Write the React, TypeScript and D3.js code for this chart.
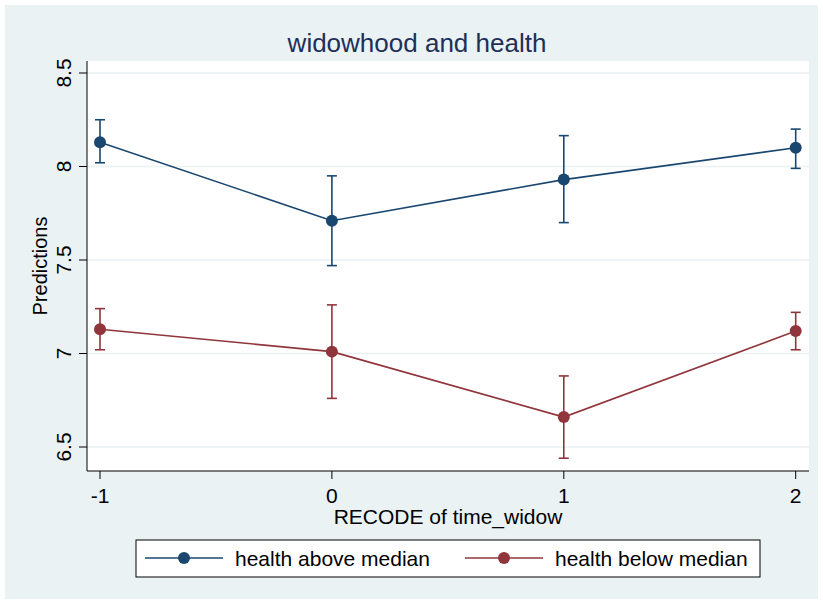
import React from 'react';
import * as d3 from 'd3';

const xCats = [-1, 0, 1, 2];
const yTicks = [6.5, 7, 7.5, 8, 8.5];

const aboveMean = [8.13, 7.71, 7.93, 8.10];
const aboveLo = [8.02, 7.47, 7.70, 7.99];
const aboveHi = [8.25, 7.95, 8.165, 8.20];

const belowMean = [7.13, 7.01, 6.66, 7.12];
const belowLo = [7.02, 6.76, 6.44, 7.02];
const belowHi = [7.24, 7.26, 6.88, 7.22];

const seriesNames = ['health above median', 'health below median'];
const colors = ['#1a476f', '#90353b'];

const W = 823, H = 604;
const plot = { left: 87, right: 809, top: 61, bottom: 471 };

export default function App() {
  const x = d3.scaleLinear().domain([-1, 2]).range([100, 795.7]);
  const y = d3.scaleLinear().domain([6.5, 8.5]).range([447, 73]);

  const line = d3.line<[number, number]>()
    .x(d => x(d[0]))
    .y(d => y(d[1]));

  const series = [
    { mean: aboveMean, lo: aboveLo, hi: aboveHi },
    { mean: belowMean, lo: belowLo, hi: belowHi },
  ];

  const font = '"Liberation Sans", Arial, sans-serif';

  return (
    <svg width={W} height={H} style={{ position: 'absolute', left: 0, top: 0 }} fontFamily={font}>
      <rect x={0} y={0} width={W} height={H} fill="#ffffff" />
      <rect x={5} y={5} width={813} height={594} fill="#eaf2f3" />
      <rect x={plot.left} y={plot.top} width={plot.right - plot.left} height={plot.bottom - plot.top} fill="#ffffff" />

      {/* grid */}
      {yTicks.map(t => (
        <line key={'g' + t} x1={plot.left} x2={plot.right} y1={y(t)} y2={y(t)} stroke="#eaf2f3" strokeWidth={1.5} />
      ))}

      {/* axes */}
      <line x1={plot.left} x2={plot.left} y1={plot.top} y2={plot.bottom} stroke="#000" strokeWidth={1} />
      <line x1={plot.left} x2={plot.right} y1={plot.bottom} y2={plot.bottom} stroke="#000" strokeWidth={1} />

      {yTicks.map(t => (
        <g key={'y' + t}>
          <line x1={plot.left - 8} x2={plot.left} y1={y(t)} y2={y(t)} stroke="#000" />
          <text
            transform={`translate(${plot.left - 16},${y(t)}) rotate(-90)`}
            textAnchor="middle"
            fontSize={21}
            fill="#000"
          >{t}</text>
        </g>
      ))}

      {xCats.map(c => (
        <g key={'x' + c}>
          <line x1={x(c)} x2={x(c)} y1={plot.bottom} y2={plot.bottom + 8} stroke="#000" />
          <text x={x(c)} y={plot.bottom + 32} textAnchor="middle" fontSize={21} fill="#000">{c}</text>
        </g>
      ))}

      <text x={(plot.left + plot.right) / 2} y={524} textAnchor="middle" fontSize={21} fill="#000">RECODE of time_widow</text>
      <text transform={`translate(47,${(plot.top + plot.bottom) / 2}) rotate(-90)`} textAnchor="middle" fontSize={20} fill="#000">Predictions</text>

      <text x={417} y={52} textAnchor="middle" fontSize={26} fill="#1e2f58">widowhood and health</text>

      {/* series */}
      {series.map((s, si) => (
        <g key={'s' + si}>
          {xCats.map((c, i) => (
            <g key={i} stroke={colors[si]} strokeWidth={1.6}>
              <line x1={x(c)} x2={x(c)} y1={y(s.lo[i])} y2={y(s.hi[i])} />
              <line x1={x(c) - 5} x2={x(c) + 5} y1={y(s.lo[i])} y2={y(s.lo[i])} />
              <line x1={x(c) - 5} x2={x(c) + 5} y1={y(s.hi[i])} y2={y(s.hi[i])} />
            </g>
          ))}
          <path
            d={line(xCats.map((c, i) => [c, s.mean[i]] as [number, number])) || ''}
            fill="none"
            stroke={colors[si]}
            strokeWidth={1.6}
          />
          {xCats.map((c, i) => (
            <circle key={'c' + i} cx={x(c)} cy={y(s.mean[i])} r={6} fill={colors[si]} />
          ))}
        </g>
      ))}

      {/* legend */}
      <rect x={136} y={540} width={624} height={37} fill="#ffffff" stroke="#000" strokeWidth={1} />
      {seriesNames.map((n, i) => {
        const lx = i === 0 ? 145 : 465;
        return (
          <g key={'l' + i}>
            <line x1={lx} x2={lx + 78} y1={558} y2={558} stroke={colors[i]} strokeWidth={1.6} />
            <circle cx={lx + 39} cy={558} r={6} fill={colors[i]} />
            <text x={lx + 90} y={566} fontSize={21} fill="#000">{n}</text>
          </g>
        );
      })}
    </svg>
  );
}
